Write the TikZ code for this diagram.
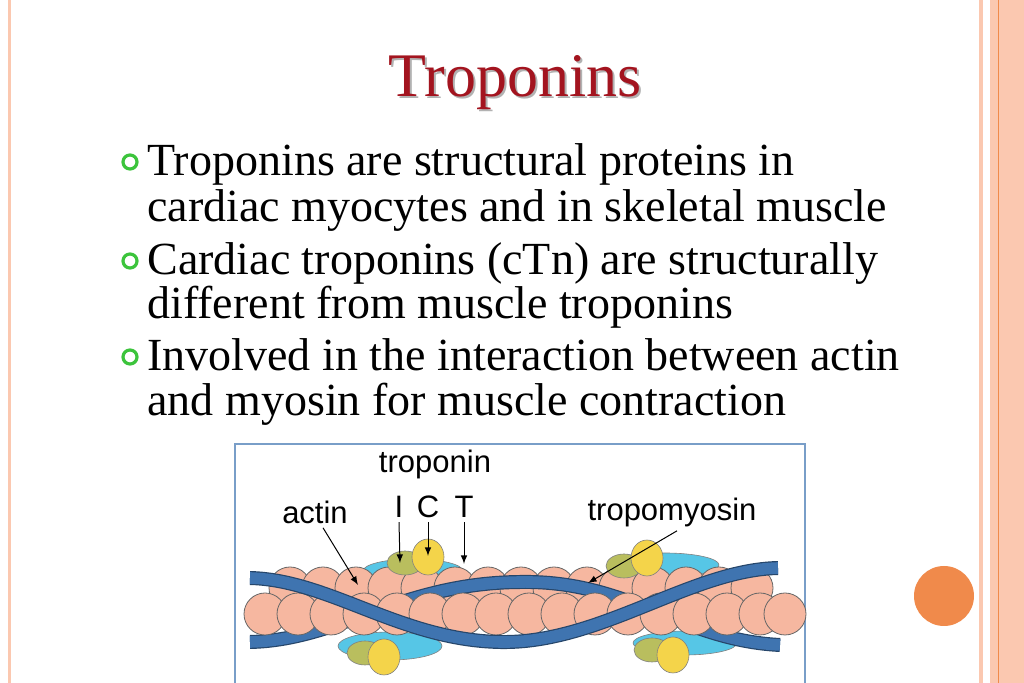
\documentclass[tikz,border=0pt]{standalone}
\usepackage{fontspec}
\setmainfont{Liberation Serif}
\newfontfamily\labelfont{Liberation Sans}
\usetikzlibrary{positioning}
\definecolor{salmon}{HTML}{FBC8B0}
\definecolor{deeporange}{HTML}{F08A4B}
\definecolor{titlered}{HTML}{A3141F}
\definecolor{ringgreen}{HTML}{3CC43C}
\definecolor{actinpink}{HTML}{F6B7A0}
\definecolor{tropoblue}{HTML}{3F74B0}
\definecolor{tncyan}{HTML}{56C6E6}
\definecolor{tnyellow}{HTML}{F4D44A}
\definecolor{tnolive}{HTML}{B9BE5E}
\begin{document}
\begin{tikzpicture}[x=0.5pt,y=-0.5pt,
  bodytext/.style={anchor=base west,inner sep=0pt,font=\fontsize{23}{27}\selectfont},
  bullet/.style={circle,draw=ringgreen,line width=1.6pt,minimum size=7pt,inner sep=0pt},
  tag/.style={inner sep=0pt,font=\labelfont\fontsize{15.5}{18}\selectfont},
  pointer/.style={-latex,line width=0.5pt},
  actin/.style={fill=actinpink,draw=black!60,line width=0.4pt},
  tnpart/.style={draw=black!50,line width=0.3pt},
  ribbon/.style={draw=tropoblue!60!black,line width=7pt},
  ribboncore/.style={draw=tropoblue,line width=5.8pt}]
\useasboundingbox (0,0) rectangle (1024,683);
% borders
\fill[salmon] (8,0) rectangle (11,683);
\fill[salmon] (979,0) rectangle (983,683);
\fill[salmon] (990,0) rectangle (1024,683);
\draw[deeporange,line width=0.5pt] (998,0) -- (998,683);
\fill[deeporange] (944,596) circle (15pt);
% title
\node[text=black!30,font=\fontsize{31}{36}\selectfont] at (517,85) {Troponins};
\node[text=titlered,font=\fontsize{31}{36}\selectfont] (title) at (515,83) {Troponins};
% bullets
\node[bullet] (b1) at (130,162) {};
\node[bullet] (b2) at (130,261) {};
\node[bullet] (b3) at (130,357) {};
\node[bodytext] (l1) at (147,176) {Troponins are structural proteins in};
\node[bodytext] (l2) at (147,222) {cardiac myocytes and in skeletal muscle};
\node[bodytext] (l3) at (147,275) {Cardiac troponins (cTn) are structurally};
\node[bodytext] (l4) at (147,319) {different from muscle troponins};
\node[bodytext] (l5) at (147,371) {Involved in the interaction between actin};
\node[bodytext] (l6) at (147,416) {and myosin for muscle contraction};
% figure
\draw[tropoblue!70,line width=0.6pt] (235,683) -- (235,444) -- (805,444) -- (805,683);
% troponin complexes behind
\fill[tncyan,tnpart] (413,571) ellipse (25pt and 6pt);
\fill[tncyan,tnpart] (665,565) ellipse (27pt and 6pt);
\fill[tncyan,tnpart] (390,646) ellipse (26pt and 7pt);
\fill[tncyan,tnpart] (685,643) ellipse (26pt and 6pt);
% actin back row
\foreach \cx in {290,323,356,389,422,455,488,521,554,587,620,653,686,719,752}
  \draw[actin] (\cx,588) circle (10.5pt);
\draw[ribbon] (250,642) .. controls (340,640) and (400,583) .. (520,582) .. controls (630,580) and (680,640) .. (780,645);
\draw[ribboncore] (250,642) .. controls (340,640) and (400,583) .. (520,582) .. controls (630,580) and (680,640) .. (780,645);
% actin front row
\foreach \cx in {265,298,331,364,397,430,463,496,529,562,595,628,661,694,727,760,785}
  \draw[actin] (\cx,614) circle (10.5pt);
\draw[ribbon] (250,578) .. controls (330,580) and (400,640) .. (500,642) .. controls (600,644) and (690,570) .. (778,568);
\draw[ribboncore] (250,578) .. controls (330,580) and (400,640) .. (500,642) .. controls (600,644) and (690,570) .. (778,568);
% troponin subunits
\fill[tnolive,tnpart] (405,563) ellipse (9pt and 6pt);
\fill[tnyellow,tnpart] (428,557) ellipse (8pt and 9pt);
\fill[tnolive,tnpart] (624,566) ellipse (9pt and 6pt);
\fill[tnyellow,tnpart] (647,558) ellipse (8pt and 9pt);
\fill[tnolive,tnpart] (365,653) ellipse (9pt and 6pt);
\fill[tnyellow,tnpart] (384,657) ellipse (8pt and 9pt);
\fill[tnolive,tnpart] (652,650) ellipse (9pt and 6pt);
\fill[tnyellow,tnpart] (673,655) ellipse (8pt and 9pt);
% labels
\node[tag] (troponin) at (435,464) {troponin};
\node[tag] (actinlbl) at (315,512) {actin};
\node[tag] (tnI) at (399,507) {I};
\node[tag] (tnC) at (428,507) {C};
\node[tag] (tnT) at (464,507) {T};
\node[tag] (tmlbl) at (672,512) {tropomyosin};
\coordinate (actinpt) at (358,585);
\coordinate (Ipt) at (400,563);
\coordinate (Cpt) at (428,556);
\coordinate (Tpt) at (464,564);
\coordinate (tmpt) at (588,583);
\draw[pointer] (actinlbl.south) ++(8,4) -- (actinpt);
\draw[pointer] (tnI.south) ++(0,4) -- (Ipt);
\draw[pointer] (tnC.south) ++(0,4) -- (Cpt);
\draw[pointer] (tnT.south) ++(0,4) -- (Tpt);
\draw[pointer] (tmlbl.south) ++(5,4) -- (tmpt);
\end{tikzpicture}
\end{document}
